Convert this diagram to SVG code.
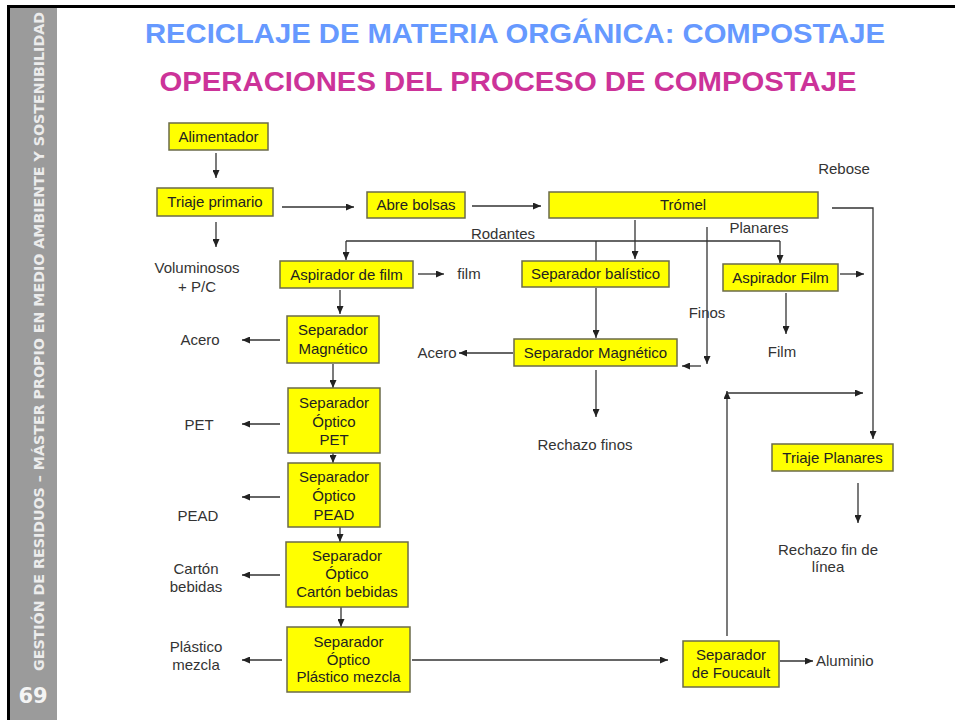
<svg xmlns="http://www.w3.org/2000/svg" width="955" height="720" viewBox="0 0 955 720">
<style>
.node rect{fill:#ffff00;stroke:#6b6b4a;stroke-width:1.5}
.nt{font-family:"Liberation Sans",Arial,sans-serif;font-size:15px;fill:#222;text-anchor:middle}
.lt{font-family:"Liberation Sans",Arial,sans-serif;font-size:15px;fill:#333;text-anchor:middle}
.ls{font-family:"Liberation Sans",Arial,sans-serif;font-size:15px;fill:#333;text-anchor:start}
.c line,.c polyline{stroke:#333;stroke-width:1.3;fill:none}
.a{marker-end:url(#ah)}
</style>
<defs>
<marker id="ah" markerUnits="userSpaceOnUse" markerWidth="8" markerHeight="7" refX="8" refY="3.5" orient="auto">
<path d="M0,0 L8,3.5 L0,7 z" fill="#222"/>
</marker>
</defs>
<rect x="0" y="0" width="955" height="720" fill="#fff"/>
<g id="frame">
<rect x="10" y="8" width="47" height="712" fill="#9b9b9b"/>
<rect x="7" y="5" width="3" height="715" fill="#000"/>
<rect x="7" y="5" width="948" height="3" fill="#000"/>
<text transform="translate(44,671) rotate(-90)" font-family="'DejaVu Sans',Verdana,sans-serif" font-weight="bold" font-size="14" fill="#ececec" textLength="659" lengthAdjust="spacingAndGlyphs">GESTIÓN DE RESIDUOS – MÁSTER PROPIO EN MEDIO AMBIENTE Y SOSTENIBILIDAD</text>
<text x="33" y="703" font-family="'DejaVu Sans',Verdana,sans-serif" font-weight="bold" font-size="21" fill="#f4f4f4" text-anchor="middle">69</text>
</g>
<g id="titles" font-family="'Liberation Sans',Arial,sans-serif" font-weight="bold" font-size="28" text-anchor="middle">
<text x="515" y="43" fill="#6699ff" textLength="740" lengthAdjust="spacingAndGlyphs">RECICLAJE DE MATERIA ORGÁNICA: COMPOSTAJE</text>
<text x="508" y="91" fill="#cc3399" textLength="697" lengthAdjust="spacingAndGlyphs">OPERACIONES DEL PROCESO DE COMPOSTAJE</text>
</g>
<g id="connectors" class="c">
<line class="a" x1="216" y1="153" x2="216" y2="178"/>
<line class="a" x1="216" y1="222" x2="216" y2="247"/>
<line class="a" x1="282" y1="207" x2="354" y2="207"/>
<line class="a" x1="472" y1="206" x2="541" y2="206"/>
<line x1="346" y1="241" x2="780" y2="241"/>
<line class="a" x1="346" y1="241" x2="346" y2="260"/>
<line x1="596" y1="241" x2="596" y2="261"/>
<line class="a" x1="780" y1="241" x2="780" y2="263"/>
<line class="a" x1="635" y1="220" x2="635" y2="259"/>
<line class="a" x1="596" y1="288" x2="596" y2="338"/>
<line class="a" x1="707" y1="227" x2="707" y2="364"/>
<line class="a" x1="701" y1="366" x2="682" y2="366"/>
<line class="a" x1="513" y1="353" x2="459" y2="353"/>
<line class="a" x1="596" y1="370" x2="596" y2="417"/>
<line class="a" x1="418" y1="274" x2="444" y2="274"/>
<line class="a" x1="340" y1="290" x2="340" y2="314"/>
<line class="a" x1="840" y1="274" x2="864" y2="274"/>
<line class="a" x1="786" y1="293" x2="786" y2="334"/>
<polyline class="a" points="832,208 873,208 873,439"/>
<line class="a" x1="280" y1="340" x2="242" y2="340"/>
<line class="a" x1="333" y1="364" x2="333" y2="388"/>
<line class="a" x1="333" y1="453" x2="333" y2="463"/>
<line class="a" x1="340" y1="527" x2="340" y2="542"/>
<line class="a" x1="341" y1="607" x2="341" y2="627"/>
<line class="a" x1="280" y1="424" x2="242" y2="424"/>
<line class="a" x1="280" y1="497" x2="242" y2="497"/>
<line class="a" x1="280" y1="575" x2="242" y2="575"/>
<line class="a" x1="282" y1="660" x2="242" y2="660"/>
<line class="a" x1="412" y1="660" x2="668" y2="660"/>
<line class="a" x1="727" y1="636" x2="727" y2="391"/>
<line class="a" x1="727" y1="393" x2="863" y2="393"/>
<line class="a" x1="858" y1="483" x2="858" y2="523"/>
<line class="a" x1="780" y1="661" x2="813" y2="661"/>
</g>
<g id="n-alimentador" class="node"><rect x="169" y="123" width="99" height="27"/><text class="nt" x="218.5" y="142">Alimentador</text></g>
<g id="n-triaje-primario" class="node"><rect x="157" y="188" width="116" height="28"/><text class="nt" x="215" y="207">Triaje primario</text></g>
<g id="n-abre-bolsas" class="node"><rect x="367" y="192" width="98" height="26"/><text class="nt" x="416" y="210">Abre bolsas</text></g>
<g id="n-tromel" class="node"><rect x="549" y="192" width="269" height="26"/><text class="nt" x="683" y="210">Trómel</text></g>
<g id="n-aspirador-de-film" class="node"><rect x="280" y="261" width="133" height="27"/><text class="nt" x="346.5" y="280">Aspirador de film</text></g>
<g id="n-separador-balistico" class="node"><rect x="522" y="261" width="147" height="26"/><text class="nt" x="595.5" y="279">Separador balístico</text></g>
<g id="n-aspirador-film" class="node"><rect x="723" y="264" width="115" height="27"/><text class="nt" x="780.5" y="283">Aspirador Film</text></g>
<g id="n-sep-magnetico-1" class="node"><rect x="287" y="316" width="92" height="47"/><text class="nt" x="333" y="335">Separador</text><text class="nt" x="333" y="354">Magnético</text></g>
<g id="n-sep-magnetico-2" class="node"><rect x="514" y="339" width="163" height="27"/><text class="nt" x="595.5" y="358">Separador Magnético</text></g>
<g id="n-optico-pet" class="node"><rect x="288" y="388" width="92" height="65"/><text class="nt" x="334" y="408">Separador</text><text class="nt" x="334" y="427">Óptico</text><text class="nt" x="334" y="445">PET</text></g>
<g id="n-optico-pead" class="node"><rect x="288" y="463" width="92" height="64"/><text class="nt" x="334" y="482">Separador</text><text class="nt" x="334" y="501">Óptico</text><text class="nt" x="334" y="520">PEAD</text></g>
<g id="n-optico-carton" class="node"><rect x="286" y="542" width="122" height="65"/><text class="nt" x="347" y="561">Separador</text><text class="nt" x="347" y="579">Óptico</text><text class="nt" x="347" y="597">Cartón bebidas</text></g>
<g id="n-optico-plastico" class="node"><rect x="287" y="627" width="123" height="65"/><text class="nt" x="348.5" y="647">Separador</text><text class="nt" x="348.5" y="665">Óptico</text><text class="nt" x="348.5" y="682">Plástico mezcla</text></g>
<g id="n-triaje-planares" class="node"><rect x="772" y="444" width="121" height="27"/><text class="nt" x="832.5" y="463">Triaje Planares</text></g>
<g id="n-foucault" class="node"><rect x="683" y="641" width="96" height="46"/><text class="nt" x="731" y="660">Separador</text><text class="nt" x="731" y="678">de Foucault</text></g>
<g id="labels">
<text class="lt" x="197" y="273">Voluminosos</text>
<text class="lt" x="197" y="292">+ P/C</text>
<text class="lt" x="469" y="279">film</text>
<text class="lt" x="200" y="345">Acero</text>
<text class="lt" x="437" y="358">Acero</text>
<text class="lt" x="503" y="239">Rodantes</text>
<text class="lt" x="759" y="233">Planares</text>
<text class="lt" x="844" y="174">Rebose</text>
<text class="lt" x="707" y="318">Finos</text>
<text class="lt" x="782" y="357">Film</text>
<text class="lt" x="585" y="450">Rechazo finos</text>
<text class="lt" x="199" y="430">PET</text>
<text class="lt" x="198" y="521">PEAD</text>
<text class="lt" x="196" y="574">Cartón</text>
<text class="lt" x="196" y="592">bebidas</text>
<text class="lt" x="196" y="652">Plástico</text>
<text class="lt" x="196" y="670">mezcla</text>
<text class="lt" x="828" y="555">Rechazo fin de</text>
<text class="lt" x="828" y="572">línea</text>
<text class="ls" x="816" y="666">Aluminio</text>
</g>
</svg>
